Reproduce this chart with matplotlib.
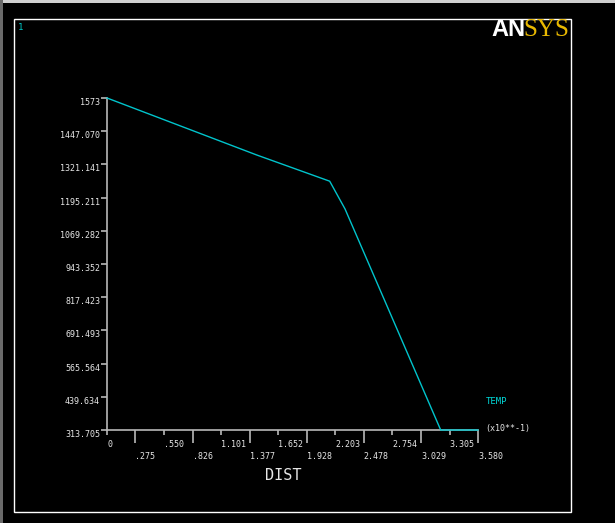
import numpy as np
import matplotlib.pyplot as plt
from matplotlib.patches import Rectangle

# temperature along path (DIST in x10**-1 units)
dist = [0.0, 1.445, 2.149, 2.297, 3.220, 3.580]
temp = [1573.0, 1356.8, 1257.4, 1152.0, 313.705, 313.705]

xtick_labels = ['0', '.275', '.550', '.826', '1.101', '1.377', '1.652',
                '1.928', '2.203', '2.478', '2.754', '3.029', '3.305', '3.580']
ytick_labels = ['313.705', '439.634', '565.564', '691.493', '817.423', '943.352',
                '1069.282', '1195.211', '1321.141', '1447.070', '1573']

xticks = [float(s) for s in xtick_labels]
yticks = [float(s) for s in ytick_labels]

W, H = 615, 523
fig = plt.figure(figsize=(W / 100, H / 100), dpi=100, facecolor='black')

# window chrome strips
fig.patches.append(Rectangle((0, 1 - 3 / H), 1, 3 / H, transform=fig.transFigure,
                             facecolor='#cfcfcf', edgecolor='none'))
fig.patches.append(Rectangle((0, 0), 3 / W, 1, transform=fig.transFigure,
                             facecolor='#6a6a6a', edgecolor='none'))
# white graphics frame
fig.patches.append(Rectangle((14 / W, 1 - 512 / H), (571 - 14) / W, (512 - 19) / H,
                             transform=fig.transFigure, fill=False,
                             edgecolor='white', linewidth=1.0))

ax = fig.add_axes([107 / W, 1 - 430 / H, (478 - 107) / W, (430 - 98) / H])
ax.set_facecolor('black')
ax.plot(dist, temp, color='#00c4cc', linewidth=1.0, clip_on=False, zorder=3)

ax.set_xlim(0, 3.58)
ax.set_ylim(313.705, 1573)

for side in ['top', 'right']:
    ax.spines[side].set_visible(False)
for side in ['left', 'bottom']:
    ax.spines[side].set_color('#b8b8b8')
    ax.spines[side].set_linewidth(1.2)

mono = 'DejaVu Sans Mono'
lblc = '#e6e6e6'

# x ticks: even -> short ticks, upper row; odd -> long ticks, lower row
ax.set_xticks(xticks[0::2])
ax.set_xticklabels(xtick_labels[0::2], fontsize=6, family=mono, color=lblc, ha='left')
ax.set_xticks(xticks[1::2], minor=True)
ax.set_xticklabels(xtick_labels[1::2], minor=True, fontsize=6, family=mono,
                   color=lblc, ha='left')
ax.tick_params(axis='x', which='major', direction='out', length=3.5, width=1.2,
               color='#b8b8b8', pad=3.5)
ax.tick_params(axis='x', which='minor', direction='out', length=9.5, width=1.2,
               color='#b8b8b8', pad=6)

ax.set_yticks(yticks)
ax.set_yticklabels(ytick_labels, fontsize=6, family=mono, color=lblc, va='top')
ax.tick_params(axis='y', direction='out', length=4, width=1.2, color='#b8b8b8', pad=1)

ax.text(283 / W, 1 - 475 / H, 'DIST', transform=fig.transFigure, ha='center',
        va='center', fontsize=11, family=mono, color=lblc)
ax.text(485 / W, 1 - 428 / H, '(x10**-1)', transform=fig.transFigure, ha='left',
        va='center', fontsize=6, family=mono, color=lblc)
ax.text(486 / W, 1 - 401 / H, 'TEMP', transform=fig.transFigure, ha='left',
        va='center', fontsize=6.5, family=mono, color='#00d8d8')
ax.text(18 / W, 1 - 28 / H, '1', transform=fig.transFigure, ha='left',
        va='center', fontsize=6.5, family=mono, color='#00c8c8')

# logo
fig.text(491 / W, 1 - 30 / H, 'AN', ha='left', va='center', fontsize=17,
         family='Liberation Sans', fontweight='bold', color='white')
fig.text(569 / W, 1 - 30 / H, 'SYS', ha='right', va='center', fontsize=18,
         family='Liberation Serif', color='#e8b800')

fig.savefig('out.png', dpi=100, facecolor='black')
